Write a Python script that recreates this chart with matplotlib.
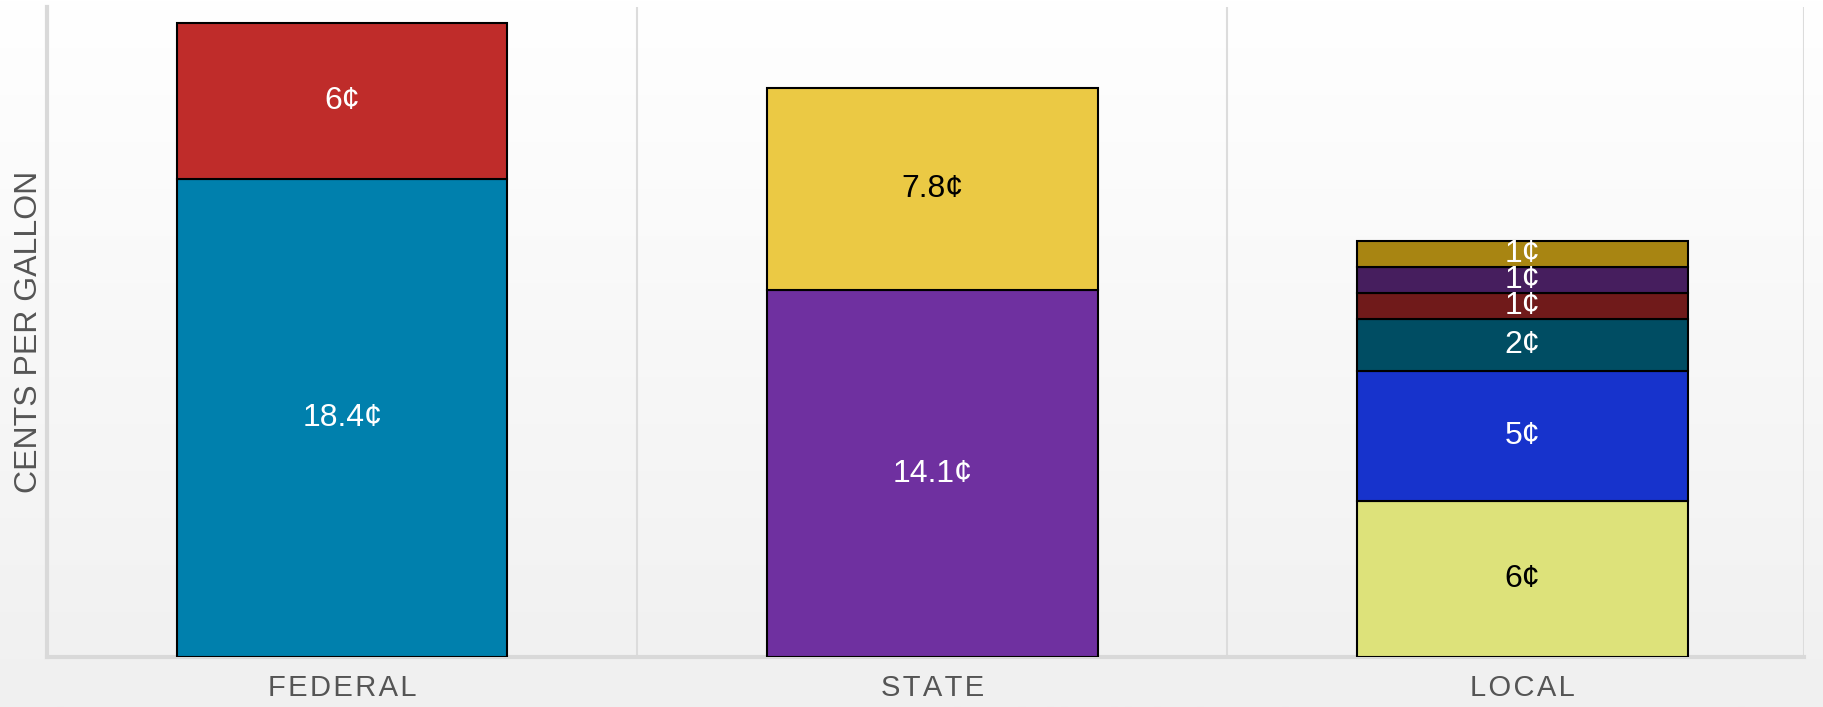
import numpy as np
import matplotlib
matplotlib.use("Agg")
import matplotlib.pyplot as plt

# categories and stacked segments (cents per gallon), bottom to top
categories = ["FEDERAL", "STATE", "LOCAL"]
federal_values = [18.4, 6]
state_values = [14.1, 7.8]
local_values = [6, 5, 2, 1, 1, 1]

federal_colors = ["#0080ad", "#bf2c2a"]
state_colors = ["#6f30a0", "#ebc944"]
local_colors = ["#dde27a", "#1733cc", "#004d63", "#701a1a", "#461e5e", "#a88512"]

federal_text = ["white", "white"]
state_text = ["white", "black"]
local_text = ["black", "white", "white", "white", "white", "white"]


def fmt(v):
    return ("%g" % v) + "\u00a2"


def spaced(s):
    # a little letter spacing, like the original tick labels
    return "\u200a".join(s)


def main():
    plt.rcParams['font.family'] = ['Liberation Sans', 'DejaVu Sans']
    fig = plt.figure(figsize=(18.24, 7.07), dpi=100)

    # background gradient, white at top to light gray at bottom
    bg = fig.add_axes([0, 0, 1, 1], zorder=-10)
    grad = np.linspace(1.0, 0.0, 256).reshape(-1, 1)
    bg.imshow(grad, aspect="auto", cmap=matplotlib.colors.LinearSegmentedColormap.from_list(
        "g", ["#f0f0f0", "#ffffff"]), extent=[0, 1, 0, 1])
    bg.axis("off")

    ax = fig.add_axes([0.0258, 0.0707, 0.9633, 0.9193])
    ax.patch.set_alpha(0)

    stacks = [(federal_values, federal_colors, federal_text),
              (state_values, state_colors, state_text),
              (local_values, local_colors, local_text)]
    width = 0.56
    for i, (vals, cols, tcols) in enumerate(stacks):
        bottom = 0
        for v, c, tc in zip(vals, cols, tcols):
            ax.bar(i, v, width, bottom=bottom, color=c, edgecolor="black",
                   linewidth=1.5, zorder=3)
            ax.text(i, bottom + v / 2, fmt(v), ha="center", va="center",
                    color=tc, fontsize=23, zorder=4)
            bottom += v

    right = 2.477
    ax.set_xlim(-0.5, right)
    ax.set_ylim(0, 25)
    for x in [0.5, 1.5, right]:
        ax.axvline(x, color="#dcdcdc", linewidth=1.5, zorder=1)

    ax.set_xticks(range(len(categories)))
    ax.set_xticklabels([spaced(c) for c in categories], fontsize=21, color="#555555")
    ax.tick_params(axis="x", length=0, pad=12)
    ax.set_yticks([])
    ax.set_ylabel("CENTS PER GALLON", fontsize=23, color="#555555", labelpad=2)

    for s in ["top", "right"]:
        ax.spines[s].set_visible(False)
    ax.spines["left"].set_color("#d9d9d9")
    ax.spines["left"].set_linewidth(3)
    ax.spines["bottom"].set_color("#d9d9d9")
    ax.spines["bottom"].set_linewidth(3)

    fig.savefig("out.png", dpi=100)


if __name__ == "__main__":
    main()
